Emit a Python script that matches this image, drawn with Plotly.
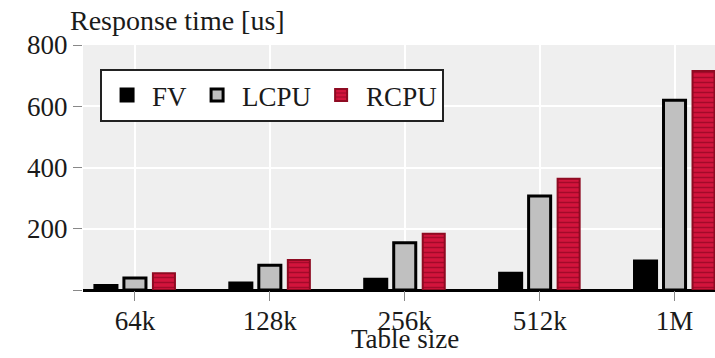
import plotly.graph_objects as go

# Response time per table size for each lookup implementation
categories = ["64k", "128k", "256k", "512k", "1M"]
fv = [15, 23, 35, 55, 95]
lcpu = [39, 81, 154, 307, 620]
rcpu = [55, 98, 184, 363, 715]

y_ticks = [0, 200, 400, 600, 800]
y_tick_text = ["", "200", "400", "600", "800"]

FONT = "Liberation Serif"
TXT = "#1a1a1a"

fig = go.Figure()
fig.add_trace(go.Bar(
    name="FV", x=categories, y=fv,
    marker=dict(color="#000000", line=dict(color="#000000", width=3)),
))
fig.add_trace(go.Bar(
    name="LCPU", x=categories, y=lcpu,
    marker=dict(color="#c0c0c0", line=dict(color="#000000", width=3)),
))
fig.add_trace(go.Bar(
    name="RCPU", x=categories, y=rcpu,
    marker=dict(
        color="#d3143c",
        line=dict(color="#8e0b22", width=2),
        pattern=dict(shape="-", fgcolor="#a30a2a", bgcolor="#d3143c",
                     size=5, solidity=0.3, fillmode="replace"),
    ),
))

fig.update_layout(
    width=715, height=358,
    margin=dict(l=83, r=0, t=45, b=68),
    paper_bgcolor="white",
    plot_bgcolor="#efefef",
    barmode="group",
    bargap=0.355,
    bargroupgap=0.24,
    font=dict(family=FONT, size=27, color=TXT),
    showlegend=True,
    legend=dict(
        orientation="h",
        x=0.027, y=0.902, xanchor="left", yanchor="top",
        bgcolor="white", bordercolor="#222222", borderwidth=2,
        font=dict(family=FONT, size=27, color=TXT),
        itemwidth=40, tracegroupgap=0,
    ),
    xaxis=dict(
        range=[-0.385, 4.3],
        showgrid=True, gridcolor="white", gridwidth=1.5,
        showline=False, zeroline=False,
        ticks="outside", ticklen=10, tickcolor="#888888", tickwidth=1,
        ticklabelstandoff=-3,
        tickfont=dict(family=FONT, size=27, color=TXT),
    ),
    yaxis=dict(
        range=[0, 800],
        tickvals=y_ticks, ticktext=y_tick_text,
        showgrid=True, gridcolor="white", gridwidth=2,
        zeroline=True, zerolinecolor="#000000", zerolinewidth=3,
        showline=False,
        ticks="outside", ticklen=9, tickcolor="#888888", tickwidth=1,
        ticklabelstandoff=0,
        tickfont=dict(family=FONT, size=27, color=TXT),
    ),
    annotations=[
        dict(text="Response time [us]", xref="paper", yref="paper",
             x=-0.024, y=1.10, xanchor="left", yanchor="middle",
             showarrow=False, font=dict(family=FONT, size=28, color=TXT)),
        dict(text="Table size", xref="x", yref="paper",
             x=2, y=-0.2, xanchor="center", yanchor="middle",
             showarrow=False, font=dict(family=FONT, size=27, color=TXT)),
    ],
)

fig.write_html("out.html")
